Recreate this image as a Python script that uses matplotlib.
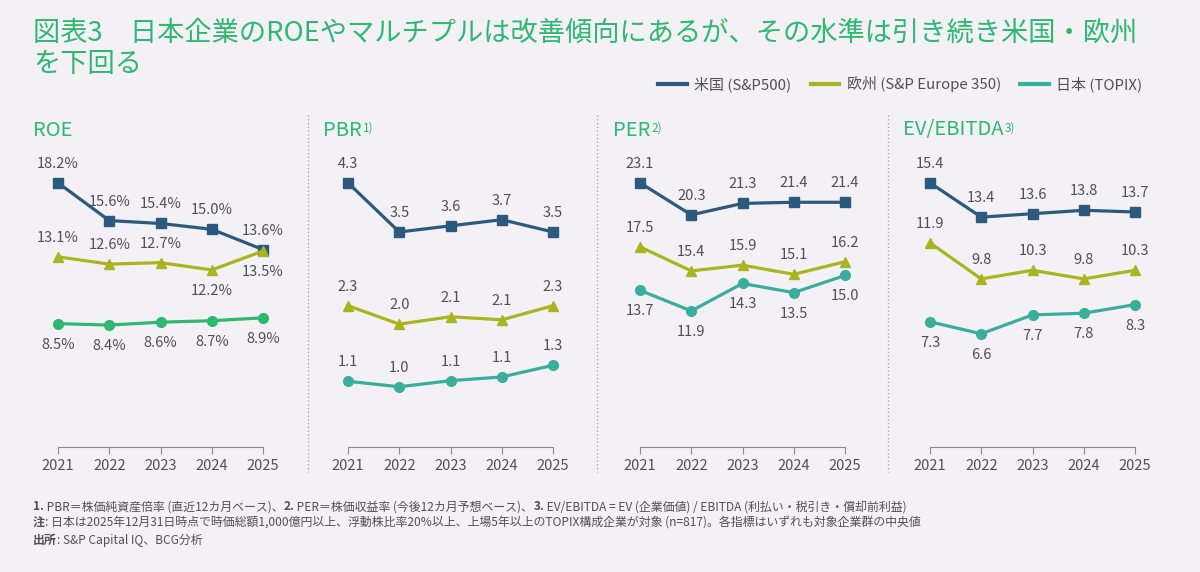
import matplotlib
matplotlib.use('Agg')
import matplotlib.pyplot as plt
from matplotlib.lines import Line2D

plt.rcParams['font.family'] = ['Noto Sans CJK JP', 'DejaVu Sans']

# data
years = [2021, 2022, 2023, 2024, 2025]
roe_us = [18.2, 15.6, 15.4, 15.0, 13.6]
roe_eu = [13.1, 12.6, 12.7, 12.2, 13.5]
roe_jp = [8.5, 8.4, 8.6, 8.7, 8.9]
pbr_us = [4.3, 3.5, 3.6, 3.7, 3.5]
pbr_eu = [2.3, 2.0, 2.12, 2.07, 2.3]
pbr_jp = [1.07, 0.98, 1.08, 1.14, 1.33]
per_us = [23.1, 20.3, 21.3, 21.4, 21.4]
per_eu = [17.5, 15.4, 15.9, 15.1, 16.2]
per_jp = [13.7, 11.9, 14.3, 13.5, 15.0]
ev_us = [15.4, 13.4, 13.6, 13.8, 13.7]
ev_eu = [11.9, 9.8, 10.3, 9.8, 10.3]
ev_jp = [7.3, 6.6, 7.7, 7.8, 8.3]

series_names = ['米国 (S&P500)', '欧州 (S&P Europe 350)', '日本 (TOPIX)']
panel_titles = ['ROE', 'PBR', 'PER', 'EV/EBITDA']
panel_notes = ['', '1)', '2)', '3)']

BG = '#F3F1F5'
GREEN = '#2EB872'
NAVY = '#2C5A7E'
OLIVE = '#A9B41F'
TEAL = '#3AAE9C'
GRAY = '#4F4F55'

fig = plt.figure(figsize=(12, 5.72), dpi=100, facecolor=BG)
W, H = 1200, 572

# title
fig.text(33 / W, 1 - 33 / H, '図表3　日本企業のROEやマルチプルは改善傾向にあるが、その水準は引き続き米国・欧州',
         color=GREEN, fontsize=19.6, va='center', ha='left')
fig.text(33 / W, 1 - 64 / H, 'を下回る', color=GREEN, fontsize=19.6, va='center', ha='left')

panels = [
    (roe_us, roe_eu, roe_jp, '{:.1f}%', ['aaaaa', 'aaabb', 'bbbbb'], GREEN),
    (pbr_us, pbr_eu, pbr_jp, '{:.1f}', ['aaaaa', 'aaaaa', 'aaaaa'], TEAL),
    (per_us, per_eu, per_jp, '{:.1f}', ['aaaaa', 'aaaaa', 'bbbbb'], TEAL),
    (ev_us, ev_eu, ev_jp, '{:.1f}', ['aaaaa', 'aaaaa', 'bbbbb'], TEAL),
]

x_first = [58, 348, 640, 930]
title_x = [33, 323, 613, 903]
unit = 205 / 4
ax_bottom, ax_top = 447, 130

for i, (us, eu, jp, fmt, pos, jp_col) in enumerate(panels):
    left = x_first[i] - 0.5 * unit
    ax = fig.add_axes([left / W, 1 - ax_bottom / H, 5 * unit / W, (ax_bottom - ax_top) / H])
    ax.set_facecolor('none')
    ax.set_xlim(2020.5, 2025.5)
    ax.set_ylim(0, max(us + eu + jp) * 1.2)
    for vals, col, mk, ms, p in [(us, NAVY, 's', 7, pos[0]), (eu, OLIVE, '^', 7.5, pos[1]), (jp, jp_col, 'o', 7, pos[2])]:
        ax.plot(years, vals, color=col, lw=2.3, marker=mk, markersize=ms, clip_on=False, zorder=3)
        for x, v, c in zip(years, vals, p):
            dy = 19 if c == 'a' else -21
            ax.annotate(fmt.format(v), (x, v), xytext=(0, dy), textcoords='offset pixels',
                        ha='center', va='center', fontsize=10.5, color=GRAY)
    for s in ['top', 'right', 'left']:
        ax.spines[s].set_visible(False)
    ax.spines['bottom'].set_bounds(2021, 2025)
    ax.spines['bottom'].set_color('#8A8A8E')
    ax.set_yticks([])
    ax.set_xticks(years)
    ax.set_xticklabels([str(y) for y in years])
    ax.tick_params(axis='x', length=5, color='#8A8A8E', labelsize=10.5, labelcolor=GRAY, pad=4)

    t = fig.text(title_x[i] / W, 1 - 130 / H, panel_titles[i], color=GREEN, fontsize=14.5,
                 va='center', ha='left')
    if panel_notes[i]:
        fig.canvas.draw()
        bb = t.get_window_extent()
        fig.text((bb.x1 + 1) / W, (bb.y1 - 2) / fig.bbox.height, panel_notes[i], color=GREEN,
                 fontsize=8.5, va='top', ha='left')

# dotted separators
for xs in [308, 597, 888]:
    fig.add_artist(Line2D([xs / W, xs / W], [1 - 115 / H, 1 - 472 / H], transform=fig.transFigure,
                          color='#A0A0A5', lw=0.9, ls=(0, (1, 2))))

# legend
handles = [Line2D([], [], color=c, lw=3) for c in [NAVY, OLIVE, TEAL]]
fig.legend(handles, series_names, loc='center right', bbox_to_anchor=(1156 / W, 1 - 84 / H),
           ncol=3, frameon=False, fontsize=10.8, handlelength=1.9, handletextpad=0.5,
           columnspacing=1.3, labelcolor=GRAY)

# footnotes
def chain(y, parts):
    pieces = []
    for txt, bold in parts:
        pieces.append(fig.text(0, 1 - y / H, txt, fontsize=8.6, color=GRAY, va='center', ha='left',
                               fontweight='bold' if bold else 'normal'))
    x = 33
    for t in pieces:
        t.set_position((x / W, 1 - y / H))
        fig.canvas.draw()
        x = t.get_window_extent().x1

chain(507, [('1.', True), (' PBR＝株価純資産倍率 (直近12カ月ベース)、', False), ('2.', True),
            (' PER＝株価収益率 (今後12カ月予想ベース)、', False), ('3.', True),
            (' EV/EBITDA = EV (企業価値) / EBITDA (利払い・税引き・償却前利益)', False)])
chain(523, [('注', True), (': 日本は2025年12月31日時点で時価総額1,000億円以上、浮動株比率20%以上、上場5年以上のTOPIX構成企業が対象 (n=817)。各指標はいずれも対象企業群の中央値', False)])
chain(540, [('出所', True), (': S&P Capital IQ、BCG分析', False)])

fig.savefig('out.png', dpi=100, facecolor=BG)
